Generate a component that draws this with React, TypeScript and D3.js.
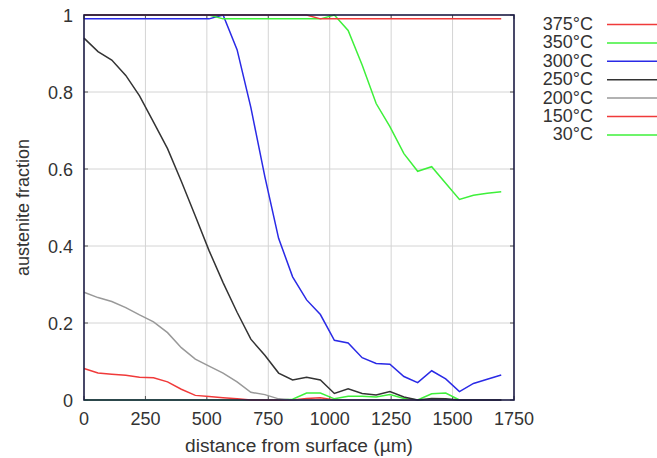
import * as React from 'react';
import * as d3 from 'd3';

// distance from surface (µm), sampled every ~56.6 µm
const distance = [
	0, 57, 113, 170, 226, 283, 340, 396, 453, 509, 566, 623, 679, 736, 792, 849, 906, 962, 1019, 1075,
	1132, 1189, 1245, 1302, 1358, 1415, 1472, 1528, 1585, 1641, 1698,
];

const t375 = [
	1, 1, 1, 1, 1, 1, 1, 1, 1, 1, 1, 1, 1, 1, 1, 1, 1, 0.99, 0.99, 0.99, 0.99, 0.99, 0.99, 0.99, 0.99,
	0.99, 0.99, 0.99, 0.99, 0.99, 0.99,
];
const t350 = [
	1, 1, 1, 1, 1, 1, 1, 1, 1, 1, 0.99, 0.99, 0.99, 0.99, 0.99, 0.99, 0.99, 0.99, 1.0, 0.96, 0.87, 0.77,
	0.71, 0.64, 0.594, 0.606, 0.563, 0.521, 0.532, 0.537, 0.541,
];
const t300 = [
	0.99, 0.99, 0.99, 0.99, 0.99, 0.99, 0.99, 0.99, 0.99, 0.99, 1.0, 0.91, 0.76, 0.58, 0.42, 0.32, 0.26,
	0.222, 0.155, 0.148, 0.11, 0.095, 0.093, 0.061, 0.045, 0.076, 0.055, 0.022, 0.043, 0.054, 0.065,
];
const t250 = [
	0.94, 0.905, 0.883, 0.843, 0.79, 0.722, 0.653, 0.568, 0.478, 0.388, 0.305, 0.228, 0.158, 0.116, 0.07,
	0.052, 0.059, 0.052, 0.017, 0.029, 0.017, 0.013, 0.022, 0.008, 0, 0.004, 0.003, 0, 0, 0, 0,
];
const t200 = [
	0.28, 0.266, 0.256, 0.24, 0.221, 0.203, 0.175, 0.136, 0.106, 0.088, 0.07, 0.047, 0.02, 0.014, 0.003, 0,
	0, 0, 0, 0, 0, 0, 0, 0, 0, 0, 0, 0, 0, 0, 0,
];
const t150 = [
	0.082, 0.07, 0.067, 0.064, 0.059, 0.058, 0.047, 0.028, 0.012, 0.009, 0.006, 0.003, 0, 0, 0, 0, 0.004,
	0.006, 0, 0, 0, 0, 0, 0, 0, 0, 0, 0, 0, 0, 0,
];
const t30 = [
	0, 0, 0, 0, 0, 0, 0, 0, 0, 0, 0, 0, 0, 0, 0, 0.002, 0.018, 0.018, 0.003, 0.01, 0.01, 0.008, 0.014,
	0.004, 0, 0.016, 0.018, 0, 0, 0, 0,
];

const labels = ['375°C', '350°C', '300°C', '250°C', '200°C', '150°C', '30°C'];
const colors = ['#f03a3a', '#3ef03a', '#2a2ae6', '#333333', '#999999', '#f03a3a', '#3ef03a'];
const series = [t375, t350, t300, t250, t200, t150, t30];

const xTicks = [0, 250, 500, 750, 1000, 1250, 1500, 1750];
const yTicks = [0, 0.2, 0.4, 0.6, 0.8, 1];

const W = 657;
const H = 458;
const left = 84;
const right = 514;
const top = 15;
const bottom = 400;

export default function App() {
	const x = d3.scaleLinear().domain([0, 1750]).range([left, right]);
	const y = d3.scaleLinear().domain([0, 1]).range([bottom, top]);
	const line = d3
		.line<number>()
		.x((_, i) => x(distance[i]))
		.y(d => y(d));

	const font = '"Liberation Sans", Arial, sans-serif';
	const textColor = '#333';

	return (
		<svg
			width={W}
			height={H}
			style={{ position: 'absolute', left: 0, top: 0, background: '#fff' }}
			fontFamily={font}
		>
			<rect x={0} y={0} width={W} height={H} fill='#fff' />
			{/* grid */}
			{xTicks.slice(1, -1).map(t => (
				<line key={'gx' + t} x1={x(t)} x2={x(t)} y1={top} y2={bottom} stroke='#d4d4d4' strokeWidth={1} />
			))}
			{yTicks.slice(1, -1).map(t => (
				<line key={'gy' + t} x1={left} x2={right} y1={y(t)} y2={y(t)} stroke='#d4d4d4' strokeWidth={1} />
			))}
			{/* tick marks */}
			{xTicks.map(t => (
				<g key={'tx' + t}>
					<line x1={x(t)} x2={x(t)} y1={bottom} y2={bottom - 4} stroke='#555' />
					<line x1={x(t)} x2={x(t)} y1={top} y2={top + 4} stroke='#555' />
				</g>
			))}
			{yTicks.map(t => (
				<g key={'ty' + t}>
					<line x1={left} x2={left + 4} y1={y(t)} y2={y(t)} stroke='#555' />
					<line x1={right} x2={right - 4} y1={y(t)} y2={y(t)} stroke='#555' />
				</g>
			))}
			{/* series, drawn back to front */}
			{series
				.map((s, i) => ({ s, i }))
				.reverse()
				.map(({ s, i }) => (
					<path key={labels[i]} d={line(s) ?? ''} fill='none' stroke={colors[i]} strokeWidth={1.5} />
				))}
			{/* frame */}
			<rect
				x={left}
				y={top}
				width={right - left}
				height={bottom - top}
				fill='none'
				stroke='#1c1c44'
				strokeWidth={1.6}
			/>
			{/* axis labels */}
			{xTicks.map(t => (
				<text key={'lx' + t} x={x(t)} y={425} textAnchor='middle' fontSize={18} fill={textColor}>
					{t}
				</text>
			))}
			{yTicks.map(t => (
				<text key={'ly' + t} x={73} y={y(t) + 7} textAnchor='end' fontSize={18} fill={textColor}>
					{t === 0 || t === 1 ? t : t.toFixed(1)}
				</text>
			))}
			<text
				x={(left + right) / 2}
				y={452}
				textAnchor='middle'
				fontSize={18}
				fill={textColor}
				textLength={228}
				lengthAdjust='spacingAndGlyphs'
			>
				distance from surface (µm)
			</text>
			<text
				transform={`translate(29 ${(top + bottom) / 2}) rotate(-90)`}
				textAnchor='middle'
				fontSize={18}
				fill={textColor}
			>
				austenite fraction
			</text>
			{/* legend */}
			{labels.map((l, i) => (
				<g key={'lg' + l}>
					<text x={593} y={30 + i * 18.4} textAnchor='end' fontSize={18} fill={textColor}>
						{l}
					</text>
					<line
						x1={607}
						x2={W}
						y1={24.5 + i * 18.4}
						y2={24.5 + i * 18.4}
						stroke={colors[i]}
						strokeWidth={1.5}
					/>
				</g>
			))}
		</svg>
	);
}
